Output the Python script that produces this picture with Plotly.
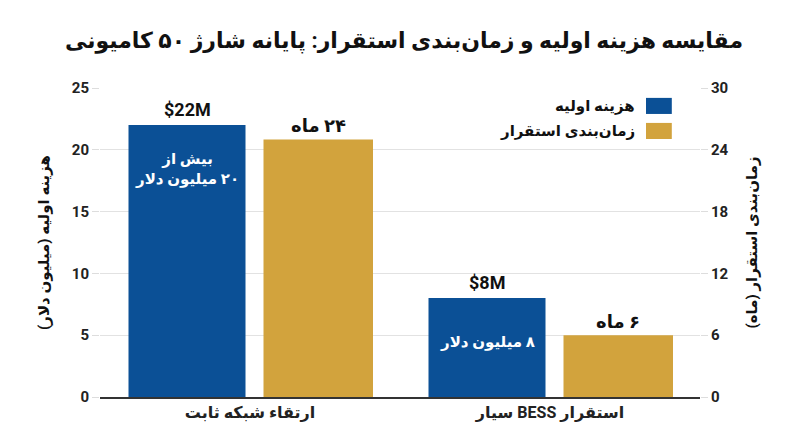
import plotly.graph_objects as go

categories = ["ارتقاء شبکه ثابت", "استقرار BESS سیار"]
cost_musd = [22, 8]
time_months = [25, 6]
cost_labels = ["$22M", "$8M"]
time_labels = ["۲۴ ماه", "۶ ماه"]
cost_inside = [["بیش از", "۲۰ میلیون دلار"], ["۸ میلیون دلار"]]
series_names = ["هزینه اولیه", "زمان‌بندی استقرار"]
left_ticks = [0, 5, 10, 15, 20, 25]
right_ticks = [0, 6, 12, 18, 24, 30]


def rtl(s):
    return "\u202B" + s + "\u202C"


BLUE = "#0b5096"
GOLD = "#d2a33d"
FONT = "Roboto, DejaVu Sans, sans-serif"

B_OFF, B_W = -0.405, 0.39
G_OFF, G_W = 0.045, 0.365

fig = go.Figure()
fig.add_trace(go.Bar(
    x=[rtl(c) for c in categories], y=cost_musd, name=series_names[0], yaxis="y",
    marker=dict(color=BLUE, line=dict(width=0)),
    offset=B_OFF, width=B_W, showlegend=False, hoverinfo="y",
))
fig.add_trace(go.Bar(
    x=[rtl(c) for c in categories], y=time_months, name=series_names[1], yaxis="y2",
    marker=dict(color=GOLD, line=dict(width=0)),
    offset=G_OFF, width=G_W, showlegend=False, hoverinfo="y",
))

ann = []
for i, cat in enumerate(categories):
    ann.append(dict(x=i + B_OFF + B_W / 2, y=cost_musd[i], xref="x", yref="y",
                    text=cost_labels[i], showarrow=False, yanchor="middle", yshift=16,
                    font=dict(family=FONT, size=18, color="#111111", weight="bold")))
    ann.append(dict(x=i + G_OFF + G_W / 2, y=time_months[i], xref="x", yref="y2",
                    text=rtl(time_labels[i]), showarrow=False, yanchor="middle", yshift=14,
                    font=dict(family=FONT, size=18, color="#111111", weight="bold")))
    ann.append(dict(x=i + B_OFF + B_W / 2, y=cost_musd[i] - 3.55, xref="x", yref="y",
                    text="<br>".join(rtl(t) for t in cost_inside[i]),
                    showarrow=False, yanchor="middle",
                    font=dict(family=FONT, size=15, color="white", weight="bold")))

# custom legend (symbol on the right, RTL)
legend_colors = [BLUE, GOLD]
legend_y = [0.942, 0.861]
shapes = []
for name, col, yy in zip(series_names, legend_colors, legend_y):
    shapes.append(dict(type="rect", xref="paper", yref="paper",
                       x0=0.91, x1=0.953, y0=yy - 0.026, y1=yy + 0.026,
                       fillcolor=col, line=dict(width=0)))
    ann.append(dict(x=0.895, y=yy, xref="paper", yref="paper", text=rtl(name),
                    showarrow=False, xanchor="right", yanchor="middle",
                    font=dict(family=FONT, size=15, color="#111111", weight="bold")))

fig.update_layout(
    width=792, height=439,
    margin=dict(l=92, r=100, t=80, b=50),
    paper_bgcolor="white", plot_bgcolor="white",
    title=dict(text=rtl("مقایسه هزینه اولیه و زمان‌بندی استقرار: پایانه شارژ ۵۰ کامیونی"),
               x=0.5, xanchor="center", y=0.927, yanchor="middle",
               font=dict(family=FONT, size=22, color="#111111", weight="bold")),
    barmode="group",
    xaxis=dict(showline=True, linecolor="#333333", linewidth=1.5, ticks="",
               tickfont=dict(family=FONT, size=16, color="#222222", weight="bold"),
               fixedrange=True),
    yaxis=dict(range=[0, 25], tickvals=left_ticks, showgrid=True, gridcolor="#e2e2e2",
               zeroline=False, showline=False, ticks="outside", ticklen=7,
               tickcolor="#dddddd",
               tickfont=dict(family=FONT, size=15, color="#222222", weight="bold"),
               title=dict(text=rtl("هزینه اولیه (میلیون دلار)"), standoff=18,
                          font=dict(family=FONT, size=15, color="#111111", weight="bold"))),
    yaxis2=dict(range=[0, 30], tickvals=right_ticks, overlaying="y", side="right",
                showgrid=False, zeroline=False, showline=False, ticks="outside",
                ticklen=7, tickcolor="#dddddd",
                tickfont=dict(family=FONT, size=15, color="#222222", weight="bold"),
                title=dict(text=rtl("زمان‌بندی استقرار (ماه)"), standoff=18,
                           font=dict(family=FONT, size=15, color="#111111", weight="bold"))),
    annotations=ann,
    shapes=shapes,
    showlegend=False,
)

fig.write_html("out.html")
